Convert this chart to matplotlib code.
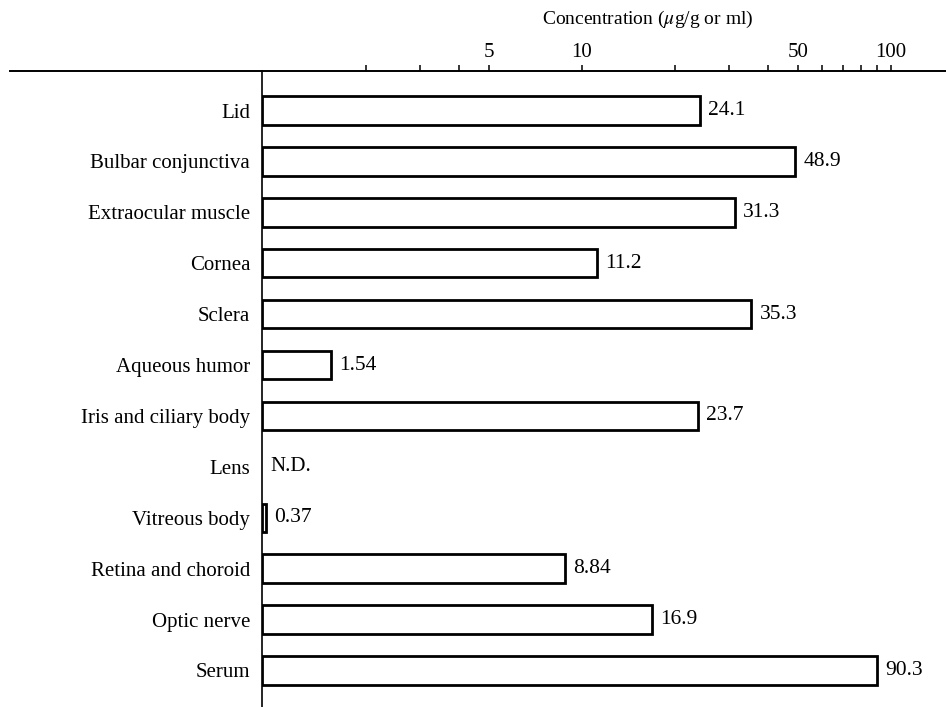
import numpy as np
import matplotlib
matplotlib.use("Agg")
import matplotlib.pyplot as plt
from matplotlib.lines import Line2D

plt.rcParams["font.family"] = ["Liberation Serif", "DejaVu Serif"]
plt.rcParams["mathtext.fontset"] = "stix"

# Tissue concentrations, N.D. = not detected
tissues = [
    "Lid", "Bulbar conjunctiva", "Extraocular muscle", "Cornea", "Sclera",
    "Aqueous humor", "Iris and ciliary body", "Lens", "Vitreous body",
    "Retina and choroid", "Optic nerve", "Serum",
]
values = [24.1, 48.9, 31.3, 11.2, 35.3, 1.54, 23.7, np.nan, 0.37, 8.84, 16.9, 90.3]
major_ticks = [5, 10, 50, 100]
minor_ticks = [2, 3, 4, 20, 30, 40, 60, 70, 80, 90]

# log scale above 1, short linear stub below 1 (so 0.37 still shows)
K = 0.035


def fwd(x):
    x = np.asarray(x, dtype=float)
    return np.where(x >= 1, np.log10(np.maximum(x, 1)), (x - 1) * K)


def inv(y):
    y = np.asarray(y, dtype=float)
    return np.where(y >= 0, 10 ** np.clip(y, 0, None), 1 + y / K)


W, H = 946, 707
fig = plt.figure(figsize=(W / 100, H / 100), dpi=100)
top_px = 71
ax = fig.add_axes([262 / W, 0, (W - 262) / W, (H - top_px) / H])
ax.set_xscale("function", functions=(fwd, inv))
ax.set_xlim(0, 10 ** (684 / 309 - K))
ax.set_ylim(11.717, -0.776)

y = np.arange(len(tissues))
ax.barh(y, values, left=0, height=0.56, color="white",
        edgecolor="black", linewidth=2)

for yi, v in zip(y, values):
    if np.isnan(v):
        ax.annotate("N.D.", (0, yi), xytext=(6, 0), textcoords="offset points",
                    va="center", ha="left", fontsize=15)
    else:
        ax.annotate(str(v), (v, yi), xytext=(6, 0), textcoords="offset points",
                    va="center", ha="left", fontsize=15.5)

ax.set_yticks(y)
ax.set_yticklabels(tissues, fontsize=15)
ax.tick_params(axis="y", length=0, pad=8.5)

ax.xaxis.tick_top()
ax.set_xticks(major_ticks)
ax.set_xticklabels([str(t) for t in major_ticks], fontsize=15)
ax.set_xticks(minor_ticks, minor=True)
ax.tick_params(axis="x", which="both", direction="out", length=4.5, width=1.1, pad=2)

for side in ["right", "bottom"]:
    ax.spines[side].set_visible(False)
ax.spines["top"].set_linewidth(1.4)
ax.spines["left"].set_linewidth(1.2)

# top rule runs on past the value axis to the left
yline = 1 - top_px / H
fig.add_artist(Line2D([10 / W, 262 / W], [yline, yline], color="black", lw=1.4))

fig.text(648 / W, 1 - 19 / H, "Concentration ($\\mu$g/g or ml)", ha="center",
         va="center", fontsize=14)

plt.savefig("out.png", dpi=100)
